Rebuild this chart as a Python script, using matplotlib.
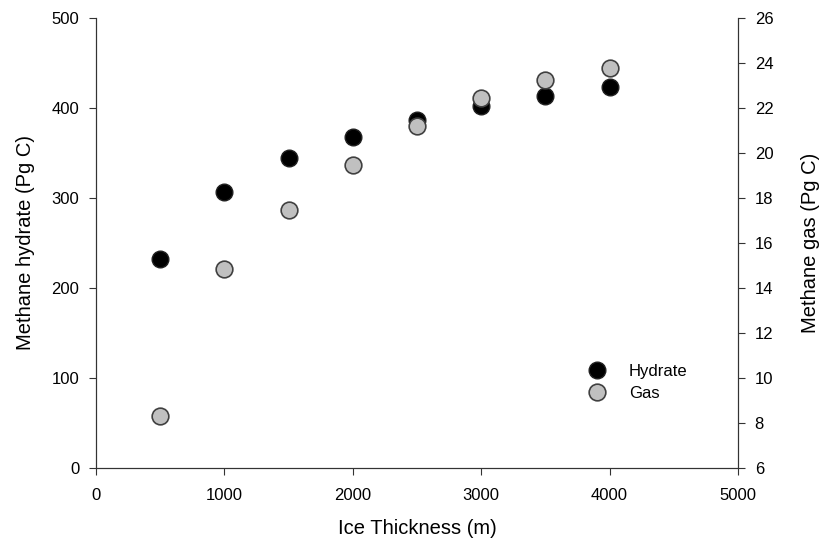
import matplotlib.pyplot as plt
from matplotlib.lines import Line2D

plt.rcParams['font.family'] = ['Liberation Sans', 'DejaVu Sans']

# data
thickness = [500, 1000, 1500, 2000, 2500, 3000, 3500, 4000]
hydrate = [232, 307, 344, 368, 387, 402, 413, 423]
gas = [8.32, 14.83, 17.47, 19.45, 21.2, 22.46, 23.24, 23.76]

fig = plt.figure(figsize=(8.2, 5.43), dpi=100)
ax = fig.add_axes([0.117, 0.138, 0.783, 0.829])
ax2 = ax.twinx()

ax.plot(thickness, hydrate, 'o', ms=12, mfc='black', mec='#202020', mew=1, ls='none')
ax2.plot(thickness, gas, 'o', ms=12, mfc='#c0c0c0', mec='#404040', mew=1.2, ls='none')

ax.set_xlim(0, 5000)
ax.set_ylim(0, 500)
ax2.set_ylim(6, 26)
ax.set_xticks(range(0, 5001, 1000))
ax.set_yticks(range(0, 501, 100))
ax2.set_yticks(range(6, 27, 2))

for a in (ax, ax2):
    a.tick_params(direction='out', length=5, labelsize=12, color='#333333', pad=7)
    for s in a.spines.values():
        s.set_color('#333333')
ax.tick_params(axis='x', pad=9)
ax.spines['top'].set_visible(False)
ax2.spines['top'].set_visible(False)

ax.set_xlabel('Ice Thickness (m)', fontsize=14.5, labelpad=12)
ax.set_ylabel('Methane hydrate (Pg C)', fontsize=14.5, labelpad=12)
ax2.set_ylabel('Methane gas (Pg C)', fontsize=14.5, labelpad=20)

handles = [
    Line2D([], [], marker='o', ls='none', ms=12, mfc='black', mec='#202020'),
    Line2D([], [], marker='o', ls='none', ms=12, mfc='#c0c0c0', mec='#404040', mew=1.2),
]
ax2.legend(handles, ['Hydrate', 'Gas'], loc='lower right', bbox_to_anchor=(0.945, 0.115),
           frameon=False, fontsize=12, handletextpad=0.9, labelspacing=0.45)

fig.savefig('out.png', dpi=100)
